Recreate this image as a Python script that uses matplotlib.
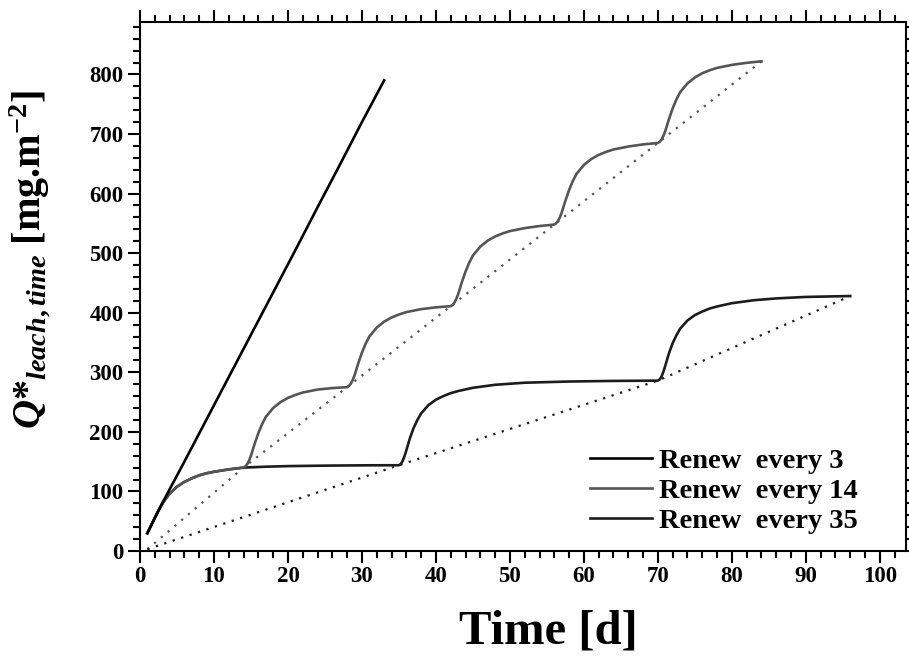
import matplotlib
matplotlib.use("Agg")
import matplotlib.pyplot as plt
from matplotlib.ticker import MultipleLocator

plt.rcParams['font.family'] = ['Liberation Serif', 'DejaVu Serif']
plt.rcParams['font.weight'] = 'bold'
plt.rcParams['mathtext.fontset'] = 'custom'
plt.rcParams['mathtext.rm'] = 'Liberation Serif:bold'
plt.rcParams['mathtext.it'] = 'Liberation Serif:bold:italic'
plt.rcParams['mathtext.bf'] = 'Liberation Serif:bold'

# --- DATA ---
# renew every 3 days
days_3 = [1, 3, 6, 9, 12, 15, 18, 21, 24, 27, 30, 33]
q_3 = [30, 80, 150, 221, 292, 363, 434, 505, 577, 648, 720, 790]

# first 14 days are shared by the 14 and 35 day runs
days_first = [1, 1.5, 2, 2.5, 3, 3.5, 4, 5, 6, 7, 8, 9, 10, 12, 14]
q_first = [30, 43, 56, 68, 79, 88, 96, 108, 116, 122, 127, 130.5, 133, 137, 140]

# renew every 14 days (after day 14)
days_14_rest = [14.25, 14.5, 14.75, 15, 15.5, 16, 16.5, 17, 18, 19, 20, 21, 22, 24, 26, 28,
                28.25, 28.5, 28.75, 29, 29.5, 30, 30.5, 31, 32, 33, 34, 35, 36, 38, 40, 42,
                42.25, 42.5, 42.75, 43, 43.5, 44, 44.5, 45, 46, 47, 48, 49, 50, 52, 54, 56,
                56.25, 56.5, 56.75, 57, 57.5, 58, 58.5, 59, 60, 61, 62, 63, 64, 66, 68, 70,
                70.25, 70.5, 70.75, 71, 71.5, 72, 72.5, 73, 74, 75, 76, 77, 78, 80, 82, 84]
q_14_rest = [142, 146, 152, 160, 180, 198, 213, 225, 240, 250, 257, 262, 266, 271, 273.5, 275,
             277, 281, 287, 295, 315, 333, 348, 360, 375, 385, 392, 397, 401, 406, 409, 411,
             413, 417, 423, 431, 451, 469, 484, 496, 511, 521, 528, 533, 537, 542, 545.5, 548,
             550, 554, 560, 568, 588, 606, 621, 633, 648, 658, 665, 670, 674, 679, 682.5, 685,
             687, 691, 697, 705, 725, 743, 758, 770, 785, 795, 802, 807, 811, 816, 819.5, 822]

# renew every 35 days (after day 14)
days_35_rest = [17, 20, 25, 30, 35,
                35.25, 35.5, 35.75, 36, 36.5, 37, 37.5, 38, 39, 40, 41, 42, 43, 45, 48, 52, 58, 64, 70,
                70.25, 70.5, 70.75, 71, 71.5, 72, 72.5, 73, 74, 75, 76, 77, 78, 80, 83, 86, 90, 96]
q_35_rest = [141.5, 142.5, 143.3, 143.8, 144,
             146, 151, 159, 169, 190, 207, 220, 231, 245, 254, 260, 265, 268.5, 274, 279, 282.5, 284.5, 285.5, 286,
             288, 293, 301, 311, 332, 349, 362, 373, 387, 396, 402, 407, 410.5, 416, 421, 424, 426.5, 428]

days_14 = days_first + days_14_rest
q_14 = q_first + q_14_rest
days_35 = days_first + days_35_rest
q_35 = q_first + q_35_rest

# values at renewal times (dotted)
dot14_days = [1, 14, 28, 42, 56, 70, 84]
dot14_q = [3, 140, 275, 411, 548, 685, 822]
dot35_days = [1, 35, 70, 96]
dot35_q = [3, 144, 286, 428]

labels = ["Renew  every 3", "Renew  every 14", "Renew  every 35"]
C3, C14, C35 = "#000000", "#555555", "#1c1c1c"

fig = plt.figure(figsize=(9.09, 6.57), dpi=100)
ax = fig.add_axes([0.1540, 0.16134, 0.8424, 0.80517])

dots = (0, (1, 3))
ax.plot(dot14_days, dot14_q, color=C14, lw=1.6, linestyle=dots, zorder=1)
ax.plot(dot35_days, dot35_q, color=C35, lw=1.6, linestyle=dots, zorder=1)

l3, = ax.plot(days_3, q_3, color=C3, lw=1.9, zorder=3)
l35, = ax.plot(days_35, q_35, color=C35, lw=1.9, zorder=2)
l14, = ax.plot(days_14, q_14, color=C14, lw=1.9, zorder=2)

ax.set_xlim(0, 103.5)
ax.set_ylim(0, 888)
ax.xaxis.set_major_locator(MultipleLocator(10))
ax.xaxis.set_minor_locator(MultipleLocator(2))
ax.yaxis.set_major_locator(MultipleLocator(100))
ax.yaxis.set_minor_locator(MultipleLocator(20))

for s in ax.spines.values():
    s.set_linewidth(1.5)
ax.tick_params(which='both', direction='out', top=True, right=True, width=1.5)
ax.tick_params(which='major', length=8.4, labelsize=16.5)
ax.tick_params(which='minor', length=4.8)
ax.tick_params(axis='y', pad=3.5)
ax.tick_params(axis='x', pad=2.5)
for t in ax.get_xticklabels() + ax.get_yticklabels():
    t.set_fontweight('bold')

fig.text(548 / 909, 1 - 632 / 657, "Time [d]", fontsize=35, fontweight='bold',
         ha='center', va='center')
fig.text(30 / 909, 1 - 259 / 657, r"$Q$*$_{leach,time}$ [mg.m$^{-2}$]",
         fontsize=29, fontweight='bold', rotation=90, ha='center', va='center')

leg = ax.legend([l3, l14, l35], labels, loc='center left',
                bbox_to_anchor=(590 / 909, 1 - 491 / 657), bbox_transform=fig.transFigure,
                frameon=False, fontsize=20.5, handlelength=2.18, handletextpad=0.24,
                labelspacing=0.13, borderpad=0, borderaxespad=0)
for t in leg.get_texts():
    t.set_fontweight('bold')

fig.savefig("out.png", dpi=100)
